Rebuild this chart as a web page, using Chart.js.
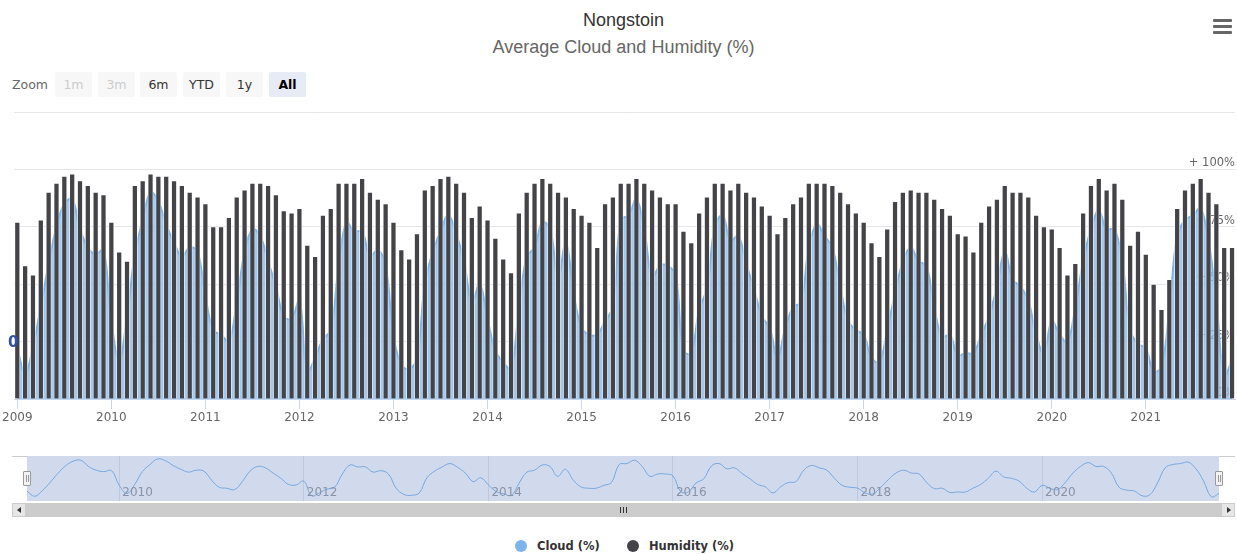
<!DOCTYPE html>
<html><head><meta charset="utf-8">
<script src="https://cdn.jsdelivr.net/npm/chart.js@4.4.1/dist/chart.umd.min.js"></script>
<style>
html,body{margin:0;padding:0;background:#fff;}
body{width:1237px;height:554px;position:relative;overflow:hidden;font-family:"Liberation Sans",Arial,sans-serif;}
.abs{position:absolute;}
#title{left:5px;width:1237px;top:9px;text-align:center;font-size:18px;color:#333;line-height:22px;}
#subtitle{left:5px;width:1237px;top:36px;text-align:center;font-size:18px;color:#666;line-height:22px;}
.bar3{position:absolute;left:1213px;width:19px;height:3px;background:#666;border-radius:1px;}
.zlbl{left:12px;top:77px;font-family:"DejaVu Sans",sans-serif;font-size:12.5px;color:#666;line-height:16px;}
.btn{top:72px;width:37px;height:25px;line-height:25px;text-align:center;font-family:"DejaVu Sans",sans-serif;font-size:12.5px;background:#f7f7f7;color:#333;border-radius:2px;}
.btn.dis{color:#cccccc;}
.btn.sel{background:#e6ebf5;font-weight:bold;color:#000;}
#zero{left:8px;top:333px;font-family:"DejaVu Sans",sans-serif;font-weight:bold;font-size:15px;line-height:18px;color:#2f50a3;z-index:5;}
.handle{top:471px;width:8px;height:15px;box-sizing:border-box;background:#f2f2f2;border:1px solid #999;border-radius:1px;z-index:5;}
.handle i{position:absolute;top:3px;width:1px;height:7px;background:#999;}
.legdot{width:12px;height:12px;border-radius:6px;top:540px;}
.legtxt{top:538px;font-family:"DejaVu Sans",sans-serif;font-weight:bold;font-size:11.5px;line-height:16px;color:#333;}
</style>
</head><body>
<div id="title" class="abs">Nongstoin</div>
<div id="subtitle" class="abs">Average Cloud and Humidity (%)</div>
<div class="bar3" style="top:19px"></div>
<div class="bar3" style="top:25px"></div>
<div class="bar3" style="top:31px"></div>

<div class="abs zlbl">Zoom</div>
<div class="abs btn dis" style="left:55px">1m</div>
<div class="abs btn dis" style="left:98px">3m</div>
<div class="abs btn" style="left:140px">6m</div>
<div class="abs btn" style="left:183px">YTD</div>
<div class="abs btn" style="left:226px">1y</div>
<div class="abs btn sel" style="left:269px">All</div>

<canvas id="main" class="abs" width="1237" height="335" style="left:0;top:100px;width:1237px;height:335px"></canvas>
<div id="zero" class="abs">0</div>

<div class="abs" style="left:12px;top:456px;width:1223px;height:1px;background:#cccccc"></div>
<canvas id="nav" class="abs" width="1192" height="45" style="left:27px;top:456px;width:1192px;height:45px;background:rgb(209,218,237)"></canvas>
<div class="abs handle" style="left:23px"><i style="left:2px"></i><i style="left:4px"></i></div>
<div class="abs handle" style="left:1215px"><i style="left:2px"></i><i style="left:4px"></i></div>

<div class="abs" style="left:12px;top:503px;width:1223px;height:14px;background:#f2f2f2"></div>
<div class="abs" style="left:12px;top:503px;width:14px;height:14px;box-sizing:border-box;background:#e6e6e6;border:1px solid #ccc"></div>
<div class="abs" style="left:17px;top:507px;width:0;height:0;border-top:3px solid transparent;border-bottom:3px solid transparent;border-right:4px solid #333"></div>
<div class="abs" style="left:26px;top:503px;width:1195px;height:14px;background:#cccccc"></div>
<div class="abs" style="left:620px;top:507px;width:1px;height:6px;background:#333"></div>
<div class="abs" style="left:623px;top:507px;width:1px;height:6px;background:#333"></div>
<div class="abs" style="left:626px;top:507px;width:1px;height:6px;background:#333"></div>
<div class="abs" style="left:1221px;top:503px;width:14px;height:14px;box-sizing:border-box;background:#e6e6e6;border:1px solid #ccc"></div>
<div class="abs" style="left:1227px;top:507px;width:0;height:0;border-top:3px solid transparent;border-bottom:3px solid transparent;border-left:4px solid #333"></div>

<div class="abs legdot" style="left:515px;background:#7cb5ec"></div>
<div class="abs legtxt" style="left:537px">Cloud (%)</div>
<div class="abs legdot" style="left:627px;background:#434348"></div>
<div class="abs legtxt" style="left:649px">Humidity (%)</div>

<script>
// ---- data (monthly, Jan 2009 .. Dec 2021) ----
const years = [2009,2010,2011,2012,2013,2014,2015,2016,2017,2018,2019,2020,2021];
const monthNames = ['Jan','Feb','Mar','Apr','May','Jun','Jul','Aug','Sep','Oct','Nov','Dec'];
const months = [];
years.forEach(y => monthNames.forEach(m => months.push(m + ' ' + y)));

const cloud = [
  22,11,23,40,59,75,85,87,74,66,63,65,   // 2009
  34,17,36,63,78,90,86,76,68,62,66,64,   // 2010
  45,30,28,25,42,64,74,71,60,49,36,35,   // 2011
  43,12,18,26,30,58,77,73,73,62,65,58,   // 2012
  28,15,13,18,50,64,73,80,72,60,42,50,   // 2013
  35,21,16,13,39,62,66,77,74,53,68,46,   // 2014
  31,28,28,34,40,78,80,87,74,53,58,58,   // 2015
  54,21,20,39,48,75,80,69,71,59,48,36,   // 2016
  31,18,31,40,42,66,76,71,66,49,34,30,   // 2017
  28,18,16,30,46,60,66,60,58,40,27,28,   // 2018
  19,20,20,28,36,49,64,52,49,43,28,20,   // 2019
  34,28,25,40,60,74,82,74,74,60,30,24,   // 2020
  22,12,14,39,71,78,80,83,69,43,10,17    // 2021
];
const humidity = [
  77,58,54,78,90,94,97,98,95,93,90,89,   // 2009
  77,64,60,93,95,98,97,97,95,93,90,88,   // 2010
  85,75,75,79,88,91,94,94,93,89,82,81,   // 2011
  83,67,62,80,83,94,94,94,96,90,87,85,   // 2012
  77,65,61,72,91,93,96,97,94,90,79,84,   // 2013
  78,70,61,55,81,90,94,96,94,90,88,83,   // 2014
  80,77,66,85,88,94,94,96,94,91,88,85,   // 2015
  85,73,68,81,88,94,94,91,94,90,88,84,   // 2016
  80,72,79,85,88,94,94,94,93,90,85,81,   // 2017
  77,68,62,74,86,90,91,90,90,87,83,80,   // 2018
  72,71,64,77,84,87,93,90,90,88,80,75,   // 2019
  74,66,54,59,81,93,96,91,94,87,67,73,   // 2020
  63,50,39,52,83,91,94,96,90,85,66,66    // 2021
];
const yearTickLabels = ['2009','2010','2011','2012','2013','2014','2015','2016','2017','2018','2019','2020','2021'];
const navTickLabels = ['2010','2012','2014','2016','2018','2020'];
const yTickValues = [0,25,50,75,100,125];

const idxOf = lbl => months.indexOf('Jan ' + lbl);
const cloudPts = cloud.map((v,i) => ({x:i, y:v}));
const humPts = humidity.map((v,i) => ({x:i, y:v}));

new Chart(document.getElementById('main'), {
  type: 'bar',
  data: {
    datasets: [
      {type:'line', label:'Cloud (%)', data:cloudPts, order:2, borderColor:'#7cb5ec', borderWidth:2,
       backgroundColor:'rgba(124,181,236,0.75)', fill:'origin', pointRadius:0, tension:0.4},
      {type:'bar', label:'Humidity (%)', data:humPts, order:1, backgroundColor:'#434348',
       borderColor:'rgba(255,255,255,0.85)', borderWidth:0.8, barThickness:5.2}
    ]
  },
  options: {
    responsive:false, animation:false, devicePixelRatio:1,
    layout:{padding:{left:12,right:2,top:12,bottom:0}},
    plugins:{legend:{display:false}, tooltip:{enabled:false}},
    scales:{
      x:{type:'linear', min:-0.38, max:155.38, offset:false,
         afterBuildTicks: s => { s.ticks = yearTickLabels.map(l => ({value: idxOf(l)})); },
         afterFit: s => { s.height = 36; },
         ticks:{autoSkip:false, maxRotation:0, padding:2, color:'#666',
                font:{family:'DejaVu Sans', size:12},
                callback: v => months[v] ? months[v].slice(4) : ''},
         grid:{offset:false, drawOnChartArea:false, drawTicks:true, tickLength:10, color:'#ccd6eb'},
         border:{display:true, color:'#ccd6eb'}},
      y:{position:'right', min:0, max:125,
         afterBuildTicks: s => { s.ticks = yTickValues.map(v => ({value:v})); },
         afterFit: s => { s.width = 0; },
         ticks:{mirror:true, padding:0, labelOffset:-6, color:'#666',
                font:{family:'DejaVu Sans', size:11.5},
                callback: v => v === 125 ? '' : (v > 0 ? '+ ' : '') + v + '%'},
         grid:{color:'#e6e6e6', drawTicks:false},
         border:{display:false}}
    }
  }
});

new Chart(document.getElementById('nav'), {
  type:'line',
  data:{datasets:[{data:cloudPts, borderColor:'rgb(117,167,223)', borderWidth:1, pointRadius:0,
                   tension:0.4, fill:false}]},
  options:{
    responsive:false, animation:false, devicePixelRatio:1,
    layout:{padding:0},
    plugins:{legend:{display:false}, tooltip:{enabled:false}},
    scales:{
      x:{type:'linear', min:0, max:155,
         afterBuildTicks: s => { s.ticks = navTickLabels.map(l => ({value: idxOf(l)})); },
         afterFit: s => { s.height = 0; },
         ticks:{display:false},
         grid:{color:'rgb(192,201,219)', drawTicks:false},
         border:{display:false}},
      y:{display:false, min:1, max:96}
    }
  },
  plugins:[{
    id:'navLabels',
    afterDraw(chart){
      const c = chart.ctx, sx = chart.scales.x;
      c.save();
      c.font = '12px "DejaVu Sans"';
      c.fillStyle = 'rgb(138,147,165)';
      c.textBaseline = 'middle';
      c.textAlign = 'left';
      navTickLabels.forEach(l => c.fillText(l, sx.getPixelForValue(idxOf(l)) + 3, 37));
      c.restore();
    }
  }]
});
</script>
</body></html>
